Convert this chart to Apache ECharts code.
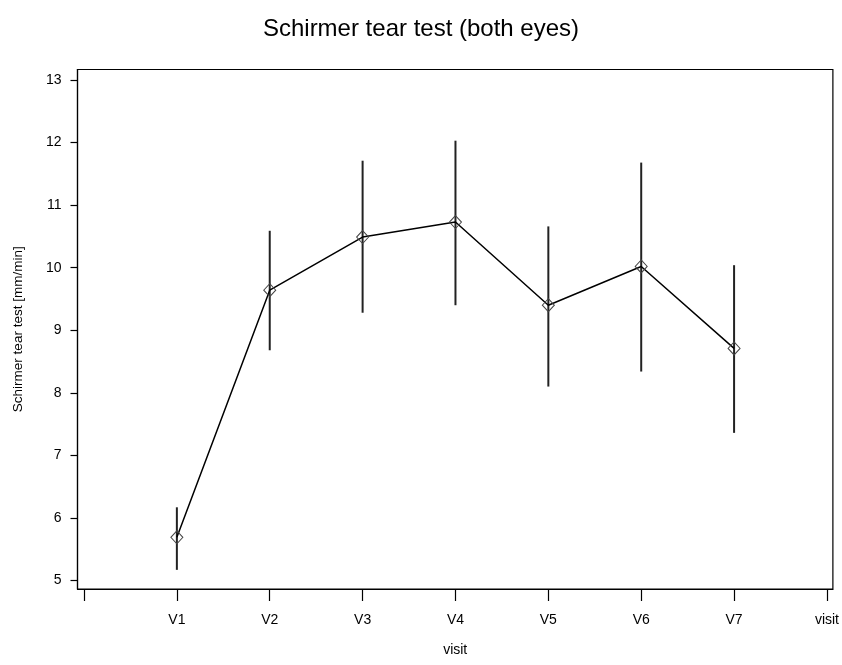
<!DOCTYPE html>
<html>
<head>
<meta charset="utf-8">
<script src="https://cdn.jsdelivr.net/npm/echarts@6/dist/echarts.min.js"></script>
<style>
  html, body { margin: 0; padding: 0; background: #fff; }
  #chart { width: 842px; height: 665px; }
</style>
</head>
<body>
<div id="chart"></div>
<script>
// Visit positions on the x axis and their tick labels
const tickPositions = [0, 1, 2, 3, 4, 5, 6, 7, 8];
const tickLabels = ['', 'V1', 'V2', 'V3', 'V4', 'V5', 'V6', 'V7', 'visit'];
const visitIndex = [1, 2, 3, 4, 5, 6, 7];

// Mean Schirmer value per visit and the error-bar limits
const meanValues = [5.69, 9.64, 10.49, 10.73, 9.40, 10.02, 8.71];
const lowerValues = [5.17, 8.68, 9.28, 9.40, 8.10, 8.34, 7.36];
const upperValues = [6.17, 10.59, 11.71, 12.03, 10.66, 11.68, 10.04];

const yTicks = [5, 6, 7, 8, 9, 10, 11, 12, 13];

const font = '"Liberation Sans", Arial, sans-serif';
const chart = echarts.init(document.getElementById('chart'), null, { renderer: 'canvas' });

const meanPoints = visitIndex.map((x, i) => [x, meanValues[i]]);
const barData = visitIndex.map((x, i) => [x, lowerValues[i], upperValues[i]]);

chart.setOption({
  animation: false,
  backgroundColor: '#fff',
  title: {
    text: 'Schirmer tear test (both eyes)',
    left: 'center',
    top: 12,
    textStyle: { fontFamily: font, fontSize: 24, fontWeight: 'normal', color: '#000' }
  },
  grid: {
    left: 77.5, right: 7, top: 69.5, bottom: 76,
    show: true, borderColor: '#000', borderWidth: 1.2, backgroundColor: 'transparent'
  },
  xAxis: {
    type: 'value',
    min: -0.07,
    max: 8.064,
    name: 'visit',
    nameLocation: 'middle',
    nameGap: 54,
    nameTextStyle: { fontFamily: font, fontSize: 14, color: '#000' },
    axisLine: { show: true, onZero: false, lineStyle: { color: '#000', width: 1.2 } },
    axisTick: { show: true, customValues: tickPositions, length: 12, lineStyle: { color: '#000', width: 1.2 } },
    axisLabel: {
      customValues: tickPositions,
      margin: 24,
      fontFamily: font, fontSize: 14, color: '#000',
      formatter: v => tickLabels[tickPositions.indexOf(Math.round(v))] || ''
    },
    splitLine: { show: false }
  },
  yAxis: {
    type: 'value',
    min: 4.864,
    max: 13.168,
    name: 'Schirmer tear test [mm/min]',
    nameLocation: 'middle',
    nameGap: 52,
    nameTextStyle: { fontFamily: font, fontSize: 13.5, color: '#000' },
    axisLine: { show: true, onZero: false, lineStyle: { color: '#000', width: 1.2 } },
    axisTick: { show: true, customValues: yTicks, length: 7, lineStyle: { color: '#000', width: 1.2 } },
    axisLabel: {
      customValues: yTicks,
      margin: 16,
      fontFamily: font, fontSize: 14, color: '#000'
    },
    splitLine: { show: false }
  },
  series: [
    {
      type: 'custom',
      name: 'range',
      data: barData,
      z: 2,
      renderItem: (params, api) => {
        const x = api.value(0);
        const lo = api.coord([x, api.value(1)]);
        const hi = api.coord([x, api.value(2)]);
        return {
          type: 'line',
          shape: { x1: lo[0], y1: lo[1], x2: hi[0], y2: hi[1] },
          style: { stroke: '#222', lineWidth: 2 }
        };
      }
    },
    {
      type: 'line',
      name: 'mean',
      data: meanPoints,
      z: 3,
      symbol: 'diamond',
      symbolSize: [12, 13],
      lineStyle: { color: '#000', width: 1.5 },
      itemStyle: { color: 'rgba(255,255,255,0)', borderColor: '#444', borderWidth: 1 }
    }
  ]
});
</script>
</body>
</html>
